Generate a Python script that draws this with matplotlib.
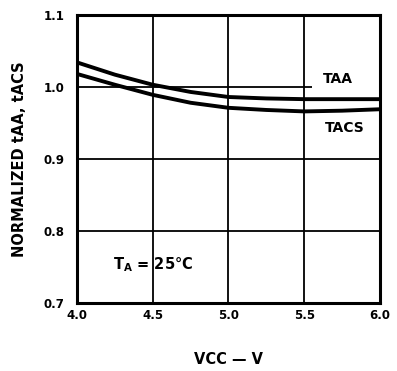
import matplotlib
matplotlib.use("Agg")
import matplotlib.pyplot as plt
from matplotlib.patches import Rectangle

# values
vcc = [4.0, 4.25, 4.5, 4.75, 5.0, 5.25, 5.5, 5.75, 6.0]
taa = [1.034, 1.017, 1.003, 0.993, 0.986, 0.984, 0.983, 0.983, 0.983]
tacs = [1.018, 1.003, 0.989, 0.978, 0.971, 0.968, 0.966, 0.967, 0.969]

x_ticks = [4.0, 4.5, 5.0, 5.5, 6.0]
x_labels = ["4.0", "4.5", "5.0", "5.5", "6.0"]
y_ticks = [0.7, 0.8, 0.9, 1.0, 1.1]
y_labels = ["0.7", "0.8", "0.9", "1.0", "1.1"]

plt.rcParams["font.family"] = ["DejaVu Sans"]
plt.rcParams["font.weight"] = "bold"

fig = plt.figure(figsize=(3.97, 3.71), dpi=100)
ax = fig.add_axes([0.194, 0.183, 0.763, 0.777])

ax.plot(vcc, taa, color="black", linewidth=2.8, solid_capstyle="butt", zorder=3)
ax.plot(vcc, tacs, color="black", linewidth=2.8, solid_capstyle="butt", zorder=3)

ax.set_xlim(4.0, 6.0)
ax.set_ylim(0.7, 1.1)
ax.set_xticks(x_ticks)
ax.set_xticklabels(x_labels, fontsize=8.5, fontweight="bold")
ax.set_yticks(y_ticks)
ax.set_yticklabels(y_labels, fontsize=8.5, fontweight="bold")
ax.tick_params(axis="x", length=0, pad=4)
ax.tick_params(axis="y", length=0, pad=9)
ax.grid(True, color="black", linewidth=1.3)

# the 1.0 grid line stops short of the TAA label
ax.add_patch(Rectangle((5.55, 0.995), 0.45, 0.01, facecolor="white",
                       edgecolor="none", zorder=2))

for s in ax.spines.values():
    s.set_linewidth(2.2)

ax.text(5.72, 1.011, "TAA", fontsize=10, fontweight="bold", ha="center", va="center", zorder=4)
ax.text(5.77, 0.943, "TACS", fontsize=10, fontweight="bold", ha="center", va="center", zorder=4)
ax.text(4.5, 0.753, r"T$_\mathbf{A}$ = 25°C", fontsize=10.5, fontweight="bold",
        ha="center", va="center", zorder=4)

ax.set_xlabel("VCC — V", fontsize=10.5, fontweight="bold", labelpad=22)
ax.set_ylabel("NORMALIZED tAA, tACS", fontsize=10.5, fontweight="bold", labelpad=12)

fig.savefig("out.png", dpi=100)
